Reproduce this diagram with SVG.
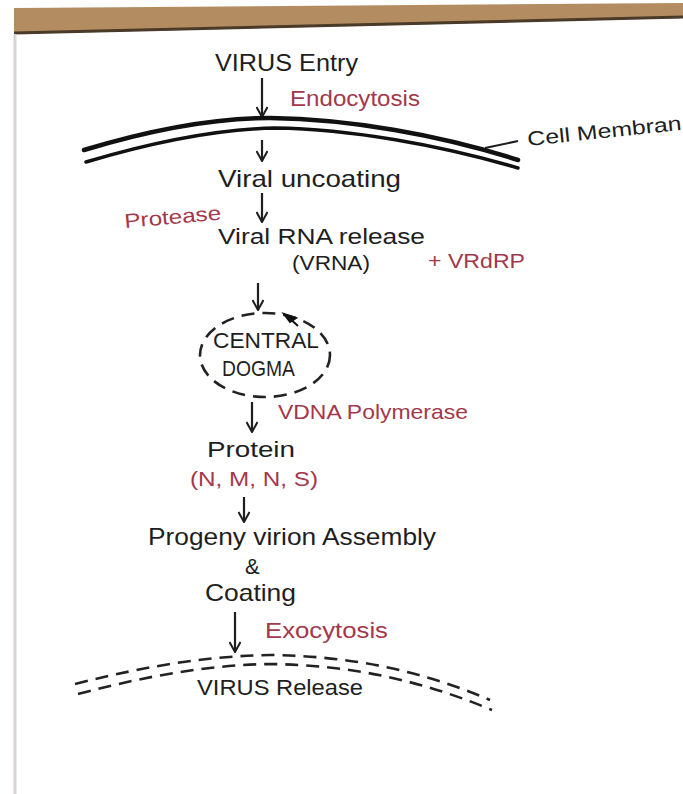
<svg xmlns="http://www.w3.org/2000/svg" width="683" height="794" viewBox="0 0 683 794">
<style>
.t{font-family:"Liberation Sans","DejaVu Sans",sans-serif;fill:#1e1e1e}
.r{font-family:"Liberation Sans","DejaVu Sans",sans-serif;fill:#a3384b}
.arr{stroke:#1e1e1e;stroke-width:2.2;fill:none;marker-end:url(#ah)}
.mem{stroke:#111;fill:none;stroke-linecap:round}
.dash{stroke:#222;fill:none;stroke-width:2.6;stroke-dasharray:13 8}
</style>
<defs>
<marker id="ah" viewBox="0 0 12 12" refX="11" refY="6" markerWidth="12" markerHeight="12" markerUnits="userSpaceOnUse" orient="auto">
<path d="M1,0.5 L11,6 L1,11.5" fill="none" stroke="#1e1e1e" stroke-width="2"/>
</marker>
</defs>
<rect width="683" height="794" fill="#fff"/>
<polygon points="14,8 683,3 683,18 14,34" fill="#b48c62"/>
<path d="M14,33 L683,17" stroke="#4a3a28" stroke-width="3"/>
<line x1="15" y1="34" x2="15" y2="794" stroke="#d8d4d6" stroke-width="3"/>

<g id="connectors">
<line class="arr" x1="262" y1="78" x2="262" y2="117"/>
<line class="arr" x1="262" y1="140" x2="262" y2="161"/>
<line class="arr" x1="262" y1="193" x2="262" y2="222"/>
<line class="arr" x1="258" y1="283" x2="258" y2="310"/>
<line class="arr" x1="252" y1="402" x2="252" y2="432"/>
<line class="arr" x1="244" y1="497" x2="244" y2="522"/>
<line class="arr" x1="235" y1="612" x2="235" y2="652"/>
<line x1="485" y1="148" x2="518" y2="141" stroke="#1e1e1e" stroke-width="2"/>
</g>

<g id="virus-entry"><text class="t" x="215" y="71" font-size="24" textLength="143" lengthAdjust="spacingAndGlyphs">VIRUS Entry</text></g>
<g id="endocytosis"><text class="r" x="290" y="106" font-size="22" textLength="130" lengthAdjust="spacingAndGlyphs">Endocytosis</text></g>

<g id="cell-membrane">
<path class="mem" stroke-width="4.5" d="M84,150 C160,127 220,118 270,118 C350,119 440,135 518,160"/>
<path class="mem" stroke-width="3.5" d="M86,162 C160,140 220,129 275,128 C350,129 440,145 518,168"/>
<text class="t" x="528" y="146" font-size="20" textLength="155" lengthAdjust="spacingAndGlyphs" transform="rotate(-6 528 146)">Cell Membran</text>
</g>

<g id="viral-uncoating"><text class="t" x="218" y="187" font-size="24" textLength="183" lengthAdjust="spacingAndGlyphs">Viral uncoating</text></g>
<g id="protease"><text class="r" x="125" y="228" font-size="20" textLength="97" lengthAdjust="spacingAndGlyphs" transform="rotate(-5 125 228)">Protease</text></g>
<g id="viral-rna-release">
<text class="t" x="218" y="244" font-size="22" textLength="207" lengthAdjust="spacingAndGlyphs">Viral RNA release</text>
<text class="t" x="292" y="270" font-size="20" textLength="78" lengthAdjust="spacingAndGlyphs">(VRNA)</text>
</g>
<g id="vrdrp"><text class="r" x="428" y="268" font-size="21" textLength="97" lengthAdjust="spacingAndGlyphs">+ VRdRP</text></g>

<g id="central-dogma">
<ellipse cx="265" cy="355" rx="65" ry="42" class="dash"/>
<path d="M284,314 L296,318 L290,322 Z M286,315 L298,326" fill="#111" stroke="#111" stroke-width="2"/>
<text class="t" x="213" y="348" font-size="22" textLength="106" lengthAdjust="spacingAndGlyphs">CENTRAL</text>
<text class="t" x="222" y="376" font-size="22" textLength="73" lengthAdjust="spacingAndGlyphs">DOGMA</text>
</g>

<g id="vdna-polymerase"><text class="r" x="278" y="419" font-size="21" textLength="190" lengthAdjust="spacingAndGlyphs">VDNA Polymerase</text></g>
<g id="protein">
<text class="t" x="207" y="457" font-size="22" textLength="88" lengthAdjust="spacingAndGlyphs">Protein</text>
<text class="r" x="190" y="486" font-size="20" textLength="128" lengthAdjust="spacingAndGlyphs">(N, M, N, S)</text>
</g>
<g id="assembly">
<text class="t" x="148" y="545" font-size="24" textLength="288" lengthAdjust="spacingAndGlyphs">Progeny virion Assembly</text>
<text class="t" x="245" y="574" font-size="22">&amp;</text>
<text class="t" x="205" y="601" font-size="24" textLength="91" lengthAdjust="spacingAndGlyphs">Coating</text>
</g>
<g id="exocytosis"><text class="r" x="265" y="638" font-size="22" textLength="123" lengthAdjust="spacingAndGlyphs">Exocytosis</text></g>

<g id="virus-release">
<path class="dash" d="M75,684 C150,665 210,656 270,655 C350,656 420,670 490,700"/>
<path class="dash" d="M78,694 C150,675 210,665 270,664 C350,665 420,680 492,710"/>
<text class="t" x="197" y="695" font-size="22" textLength="166" lengthAdjust="spacingAndGlyphs">VIRUS Release</text>
</g>
</svg>
